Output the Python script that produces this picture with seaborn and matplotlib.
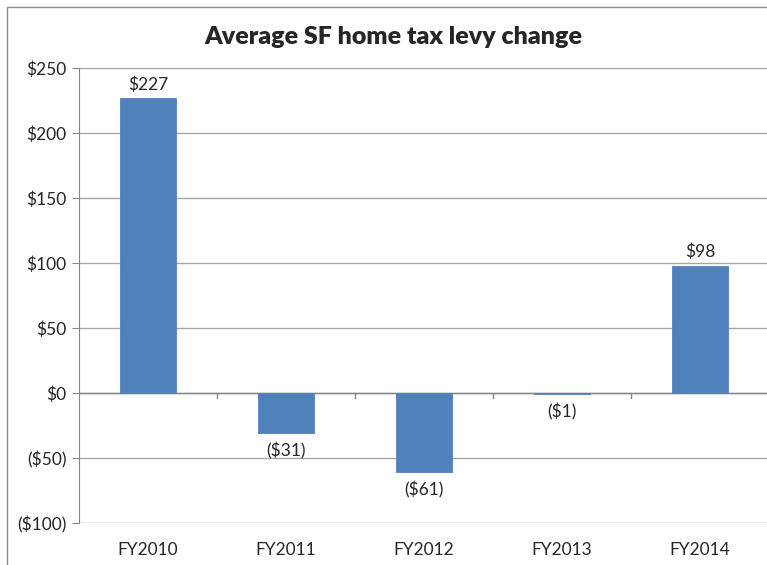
import matplotlib
matplotlib.use("Agg")
import matplotlib.pyplot as plt
import seaborn as sns
import pandas as pd
from matplotlib.patches import Rectangle
from matplotlib.ticker import FuncFormatter

years = ["FY2010", "FY2011", "FY2012", "FY2013", "FY2014"]
levy_change = [227, -31, -61, -1, 98]


def money(v):
    v = int(round(v))
    return f"(${-v})" if v < 0 else f"${v}"


sns.set_style("white")
plt.rcParams["font.family"] = ["Lato", "DejaVu Sans"]

df = pd.DataFrame({"year": years, "change": levy_change})

fig = plt.figure(figsize=(7.67, 5.65), dpi=100)
ax = fig.add_axes([79 / 767, 42 / 565, 690 / 767, 455 / 565])

sns.barplot(data=df, x="year", y="change", color="#4F81BD", width=0.41,
            saturation=1, ax=ax, zorder=5, edgecolor="#4F81BD", linewidth=0.6)

ax.set_ylim(-100, 250)
ax.set_xlim(-0.5, 4.5)
ax.set_yticks(range(-100, 251, 50))
ax.yaxis.set_major_formatter(FuncFormatter(lambda v, p: money(v)))
ax.grid(axis="y", color="#A6A6A6", linewidth=1, zorder=0)
ax.set_xlabel("")
ax.set_ylabel("")

for s in ["top", "right", "bottom"]:
    ax.spines[s].set_visible(False)
ax.spines["left"].set_color("#868686")
ax.tick_params(axis="y", length=5, color="#868686", labelsize=12.5, pad=4, left=True)
ax.tick_params(axis="x", length=0, labelsize=12.5, pad=14)

# category boundary ticks on the zero line
for b in [0.5, 1.5, 2.5, 3.5]:
    ax.plot([b, b], [0, -4], color="#868686", linewidth=1, zorder=4)
ax.axhline(0, color="#868686", linewidth=1, zorder=4)

for i, v in enumerate(levy_change):
    if v >= 0:
        ax.text(i, v + 4, money(v), ha="center", va="bottom", fontsize=12.5)
    else:
        ax.text(i, v - 7, money(v), ha="center", va="top", fontsize=12.5)

fig.suptitle("Average SF home tax levy change", x=393 / 767, y=1 - 37 / 565,
             va="center", fontsize=18, fontweight="heavy")

fig.patches.append(Rectangle((7 / 767, -0.1), 1.2, 1 - 7 / 565 + 0.1,
                             transform=fig.transFigure, fill=False,
                             edgecolor="#8C8C8C", linewidth=1))

fig.savefig("out.png", dpi=100)
